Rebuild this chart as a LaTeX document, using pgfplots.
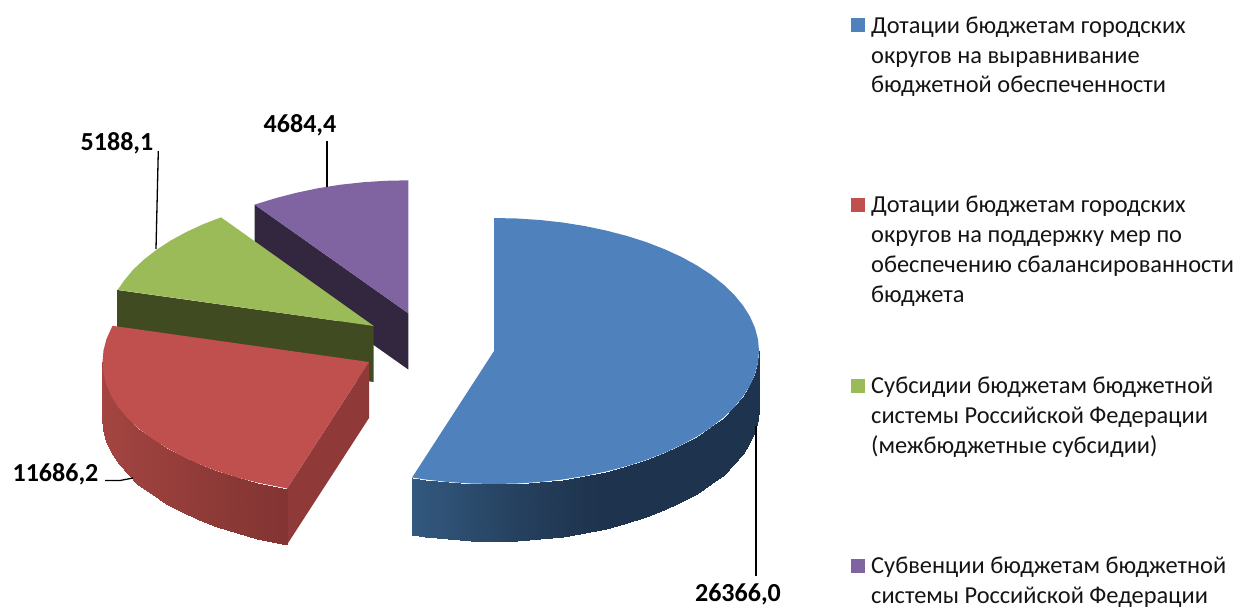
\documentclass[border=0pt]{standalone}
\usepackage{pgfplots}
\pgfplotsset{compat=1.18}
\usepackage{fontspec}
\setmainfont{Carlito}
\definecolor{cblue}{HTML}{4F81BD}
\definecolor{cred}{HTML}{C0504D}
\definecolor{cgreen}{HTML}{9BBB59}
\definecolor{cpurple}{HTML}{8064A2}
\definecolor{wgreen}{HTML}{404B22}
\definecolor{wpurple}{HTML}{33273F}
\definecolor{wred}{HTML}{8F3A39}
\pgfplotsset{
  colormap={bluewall}{rgb255(0cm)=(30,51,77) rgb255(1cm)=(51,89,127)},
  colormap={redwall}{rgb255(0cm)=(131,53,51) rgb255(1cm)=(165,69,65)},
}
\newcommand{\lab}[2]{\node[anchor=base west,inner sep=0pt,font=\fontsize{24.4}{30}\selectfont,text=black!92] at (axis cs:871,#1) {#2};}
\newcommand{\val}[2]{\node[anchor=center,inner sep=0pt,font=\fontsize{26}{30}\selectfont\bfseries] at (axis cs:#1) {#2};}
\begin{document}
\begin{tikzpicture}
\path[use as bounding box] (0,0) rectangle (1239pt,606pt);
\clip (0,0) rectangle (1239pt,606pt);
\begin{axis}[
  at={(0,0)},anchor=south west,
  scale only axis,width=1239pt,height=606pt,
  xmin=0,xmax=1239,ymin=0,ymax=606,y dir=reverse,
  hide axis,clip=false,
  point meta min=0,point meta max=1,
]
% purple
\addplot[fill=wpurple,draw=none] coordinates {(254.6,204.6)(408.3,313.3)(408.3,369.5)(254.6,261)} --cycle;
\addplot[fill=cpurple,draw=none] coordinates {(408.3,313.3)(254.6,204.6)(275.8,198.1)(296.3,192.8)(317.7,188.3)(339.7,184.8)(362.3,182.3)(385.2,180.8)(408.3,180.3)} --cycle;
% green
\addplot[fill=wgreen,draw=none] coordinates {(117.2,290)(373.7,326)(373.7,382)(117.2,346)} --cycle;
\addplot[fill=cgreen,draw=none] coordinates {(373.7,326)(117.7,289.8)(124.2,280.5)(133,269.8)(144,259.5)(156.6,249.7)(170.7,240.5)(186.3,232)(203.4,224.1)(221,217.3)} --cycle;
% red
\addplot[fill=wred,draw=none] coordinates {(369,362)(287.1,488.5)(287.1,544.5)(369,418)} --cycle;
\addplot[surf,shader=interp,colormap name=redwall,mesh/rows=2,point meta=explicit] table[meta=m] {
x y m
287.1 488.5 0
257.0 482.5 0.1
236.5 477.2 0.2
217.0 471.0 0.3
198.7 463.9 0.4
181.6 456.0 0.5
166.0 447.5 0.6
151.9 438.3 0.68
138.5 428.5 0.75
127.6 418.2 0.81
118.5 407.5 0.87
111.5 396.4 0.91
106.5 385.1 0.95
103.5 373.6 0.98
102.5 362.0 1
287.1 544.5 0
257.0 538.5 0.1
236.5 533.2 0.2
217.0 527.0 0.3
198.7 519.9 0.4
181.6 512.0 0.5
166.0 503.5 0.6
151.9 494.3 0.68
138.5 484.5 0.75
127.6 474.2 0.81
118.5 463.5 0.87
111.5 452.4 0.91
106.5 441.1 0.95
103.5 429.6 0.98
102.5 418.0 1
};
\addplot[fill=cred,draw=none] coordinates {(369,362)(287.1,488.5)(257,482.5)(236.5,477.2)(217,471)(198.7,463.9)(181.6,456)(166,447.5)(151.9,438.3)(138.5,428.5)(127.6,418.2)(118.5,407.5)(111.5,396.4)(106.5,385.1)(103.5,373.6)(102.5,362)(103.5,350.4)(106.5,338.9)(112.5,325.8)} --cycle;
% blue
\addplot[surf,shader=interp,colormap name=bluewall,mesh/rows=2,point meta=explicit] table[meta=m] {
x y m
759.0 351.0 0
758.0 362.6 0
755.0 374.1 0
750.0 385.4 0
743.0 396.5 0
734.2 407.2 0
723.5 417.5 0
711.1 427.3 0
697.0 436.5 0
681.4 445.0 0
664.3 452.9 0
646.0 460.0 0
626.5 466.2 0
606.0 471.5 0
584.6 476.0 0.05
562.6 479.5 0.15
540.0 482.0 0.25
517.1 483.5 0.37
494.0 484.0 0.5
470.9 483.5 0.63
448.0 482.0 0.78
425.4 479.5 0.91
412.1 477.5 1
759.0 408.0 0
758.0 419.6 0
755.0 431.1 0
750.0 442.4 0
743.0 453.5 0
734.2 464.2 0
723.5 474.5 0
711.1 484.3 0
697.0 493.5 0
681.4 502.0 0
664.3 509.9 0
646.0 517.0 0
626.5 523.2 0
606.0 528.5 0
584.6 533.0 0.05
562.6 536.5 0.15
540.0 539.0 0.25
517.1 540.5 0.37
494.0 541.0 0.5
470.9 540.5 0.63
448.0 539.0 0.78
425.4 536.5 0.91
412.1 534.5 1
};
\addplot[fill=cblue,draw=none] coordinates {(494,351)(494,218)(517.1,218.5)(540,220)(562.6,222.5)(584.6,226)(606,230.5)(626.5,235.8)(646,242)(664.3,249.1)(681.4,256.9)(697,265.5)(711.1,274.7)(723.5,284.5)(734.2,294.8)(743,305.5)(750,316.6)(755,327.9)(758,339.4)(759,351)(758,362.6)(755,374.1)(750,385.4)(743,396.5)(734.2,407.2)(723.5,417.5)(711.1,427.3)(697,436.5)(681.4,445)(664.3,452.9)(646,460)(626.5,466.2)(606,471.5)(584.6,476)(562.6,479.5)(540,482)(517.1,483.5)(494,484)(470.9,483.5)(448,482)(425.4,479.5)(412.1,477.5)} --cycle;
% leaders
\addplot[black,line width=1.3pt] coordinates {(756,426)(756,576)};
\addplot[black,line width=1.3pt] coordinates {(105,480.5)(120,480.5)(133,478)};
\addplot[black,line width=1.3pt] coordinates {(158.3,151)(156,249)};
\addplot[black,line width=1.3pt] coordinates {(327,141)(327,187)};
% legend keys
\addplot[fill=cblue,draw=none] coordinates {(851,18)(865,18)(865,32)(851,32)} --cycle;
\addplot[fill=cred,draw=none] coordinates {(851,198)(865,198)(865,212)(851,212)} --cycle;
\addplot[fill=cgreen,draw=none] coordinates {(851,379)(865,379)(865,393)(851,393)} --cycle;
\addplot[fill=cpurple,draw=none] coordinates {(851,559)(865,559)(865,573)(851,573)} --cycle;
\lab{33}{Дотации бюджетам городских}
\lab{63}{округов на выравнивание}
\lab{92}{бюджетной обеспеченности}
\lab{212}{Дотации бюджетам городских}
\lab{242}{округов на поддержку мер по}
\lab{272}{обеспечению сбалансированности}
\lab{302}{бюджета}
\lab{393}{Субсидии бюджетам бюджетной}
\lab{423}{системы Российской Федерации}
\lab{453}{(межбюджетные субсидии)}
\lab{573}{Субвенции бюджетам бюджетной}
\lab{603}{системы Российской Федерации}
\val{738,594}{26366,0}
\val{300,125}{4684,4}
\val{117,143}{5188,1}
\val{55.5,474}{11686,2}
\end{axis}
\end{tikzpicture}
\end{document}
